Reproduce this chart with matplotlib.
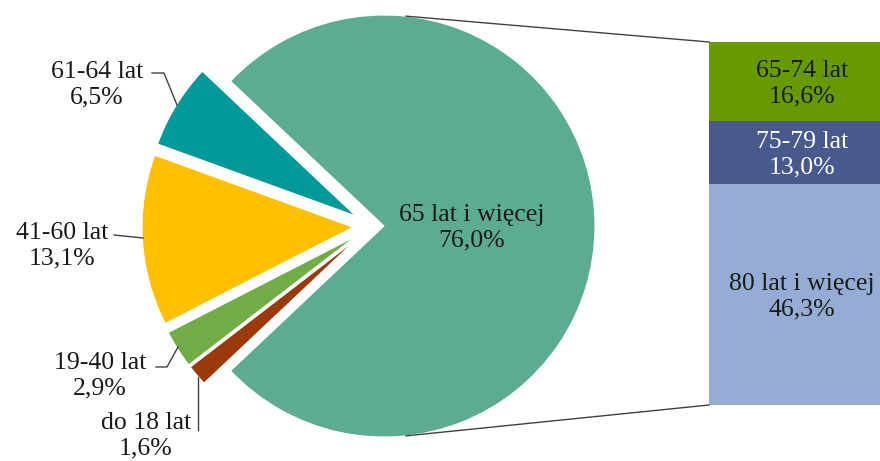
import matplotlib.pyplot as plt
import numpy as np

plt.rcParams['font.family'] = ['Liberation Serif', 'DejaVu Serif']

pie_labels = ['65 lat i więcej', '61-64 lat', '41-60 lat', '19-40 lat', 'do 18 lat']
pie_vals = [76.0, 6.5, 13.1, 2.9, 1.6]
pie_colors = ['#5CAC91', '#00999A', '#FFC000', '#70AD47', '#9A3A0A']

bar_labels = ['65-74 lat', '75-79 lat', '80 lat i więcej']
bar_vals = [16.6, 13.0, 46.3]
bar_colors = ['#669A00', '#48598E', '#95ADD5']
bar_text = ['#1a1a1a', 'white', '#1a1a1a']

def pct(v):
    return ('%.1f%%' % v).replace('.', ',')

fs = 18.5
ls = 1.2

fig = plt.figure(figsize=(8.8, 4.61), dpi=100)
ax = fig.add_axes([0, 0, 1, 1])

H = 461
cx, cy, r = 384, H - 226, 211
shift = 12
expl = 19  # pie explode is in data units here (pixels)

start = -pie_vals[0] / sum(pie_vals) * 360 / 2
wedges, _ = ax.pie(pie_vals, colors=pie_colors, startangle=start, center=(cx, cy),
                   radius=r, explode=[0, expl, expl, expl, expl],
                   wedgeprops=dict(edgecolor='white', linewidth=0.8))
for w in wedges[1:]:
    x0, y0 = w.center
    w.set_center((x0 - shift, y0))

ax.text(472, H - 228, pie_labels[0] + '\n' + pct(pie_vals[0]), ha='center', va='center',
        fontsize=fs, color='#1a1a1a', linespacing=ls)

# bar of the 65+ group
bar_x, bar_w = 802, 186
top, bot = H - 42, H - 405
k = (top - bot) / sum(bar_vals)
heights = [v * k for v in bar_vals]
bottoms = [top - sum(heights[:i + 1]) for i in range(len(heights))]
ax.bar([bar_x] * 3, heights, bottom=bottoms, width=bar_w, color=bar_colors, linewidth=0)
for lab, v, b, h, c in zip(bar_labels, bar_vals, bottoms, heights, bar_text):
    ax.text(bar_x, b + h / 2 - 2, lab + '\n' + pct(v), ha='center', va='center',
            fontsize=fs, color=c, linespacing=ls)

# connector lines
a = np.deg2rad(84.0)
bar_left = bar_x - bar_w / 2
ax.plot([cx + r * np.cos(a), bar_left], [cy + r * np.sin(a), top], color='#404040', lw=1)
ax.plot([cx + r * np.cos(a), bar_left], [cy - r * np.sin(a), bot], color='#404040', lw=1)

# outside labels with leaders
lab_pos = [None, (97, 85), (62, 246), (100, 376), (146, 436)]
leaders = [None,
           [(152, 73), (164, 73), (177, 105)],
           [(114, 235), (143, 238)],
           [(156, 367), (167, 367), (178, 347)],
           [(198, 430), (198, 377)]]
for i in range(1, 5):
    x, y = lab_pos[i]
    ax.text(x, H - y, pie_labels[i] + '\n' + pct(pie_vals[i]), ha='center', va='center',
            fontsize=fs, color='#1a1a1a', linespacing=ls)
    pts = leaders[i]
    ax.plot([p[0] for p in pts], [H - p[1] for p in pts], color='#404040', lw=1)

ax.set_xlim(0, 880)
ax.set_ylim(0, H)
ax.set_aspect('equal')
ax.axis('off')
fig.savefig('out.png', dpi=100)
